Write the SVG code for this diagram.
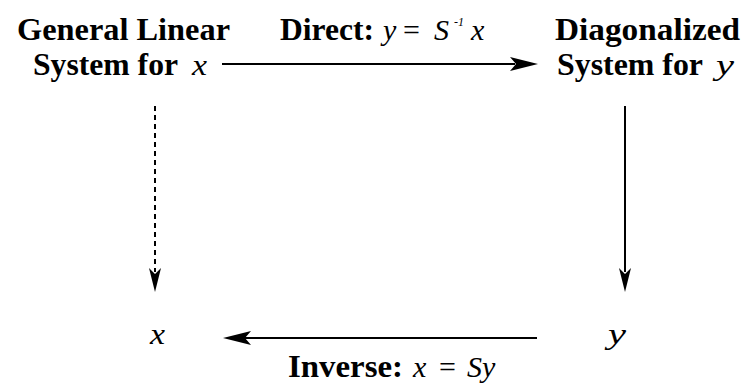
<svg xmlns="http://www.w3.org/2000/svg" width="745" height="383" viewBox="0 0 745 383">
<style>
.b{font-family:"Liberation Serif","Times New Roman","DejaVu Serif",serif;font-weight:bold;font-size:32px;fill:#000}
.m{font-family:"Liberation Serif","Times New Roman","DejaVu Serif",serif;font-style:italic;font-size:30px;fill:#000}
.r{font-family:"Liberation Serif","Times New Roman","DejaVu Serif",serif;font-size:30px;fill:#000}
.ln{stroke:#000;stroke-width:2;fill:none}
.ah{fill:#000}
</style>
<rect width="745" height="383" fill="#fff"/>
<g id="node-general">
<text class="b" x="17" y="40" textLength="213" lengthAdjust="spacingAndGlyphs">General Linear</text>
<text class="b" x="33" y="75" textLength="145" lengthAdjust="spacingAndGlyphs">System for</text>
<text class="m" x="192" y="75" textLength="15" lengthAdjust="spacingAndGlyphs">x</text>
</g>
<g id="node-diag">
<text class="b" x="555" y="40" textLength="185" lengthAdjust="spacingAndGlyphs">Diagonalized</text>
<text class="b" x="557" y="75" textLength="146" lengthAdjust="spacingAndGlyphs">System for</text>
<text class="m" x="716" y="75" textLength="18" lengthAdjust="spacingAndGlyphs">y</text>
</g>
<g id="node-x">
<text class="m" x="150" y="344" textLength="15" lengthAdjust="spacingAndGlyphs">x</text>
</g>
<g id="node-y">
<text class="m" x="608" y="344" textLength="18" lengthAdjust="spacingAndGlyphs">y</text>
</g>
<g id="connectors">
<line class="ln" x1="222" y1="64" x2="515" y2="64"/>
<polygon class="ah" points="538,64 510,57 516,64 510,71"/>
<line class="ln" x1="155" y1="106" x2="155" y2="272" stroke-dasharray="5,4"/>
<polygon class="ah" points="155,292 149,268 155,274 161,268"/>
<line class="ln" x1="625" y1="106" x2="625" y2="272"/>
<polygon class="ah" points="625,292 619,268 625,274 631,268"/>
<line class="ln" x1="240" y1="338" x2="537" y2="338"/>
<polygon class="ah" points="223,338 251,331 245,338 251,345"/>
<text class="b" x="280" y="40" textLength="94" lengthAdjust="spacingAndGlyphs">Direct:</text>
<text class="m" y="40"><tspan x="383">y</tspan><tspan x="403" font-style="normal">=</tspan><tspan x="434">S</tspan><tspan x="454" y="26" font-size="12">-1</tspan><tspan x="471" y="40">x</tspan></text>
<text class="b" x="288" y="377" textLength="115" lengthAdjust="spacingAndGlyphs">Inverse:</text>
<text class="m" y="377"><tspan x="413">x</tspan><tspan x="439" font-style="normal">=</tspan><tspan x="467">Sy</tspan></text>
</g>
</svg>
